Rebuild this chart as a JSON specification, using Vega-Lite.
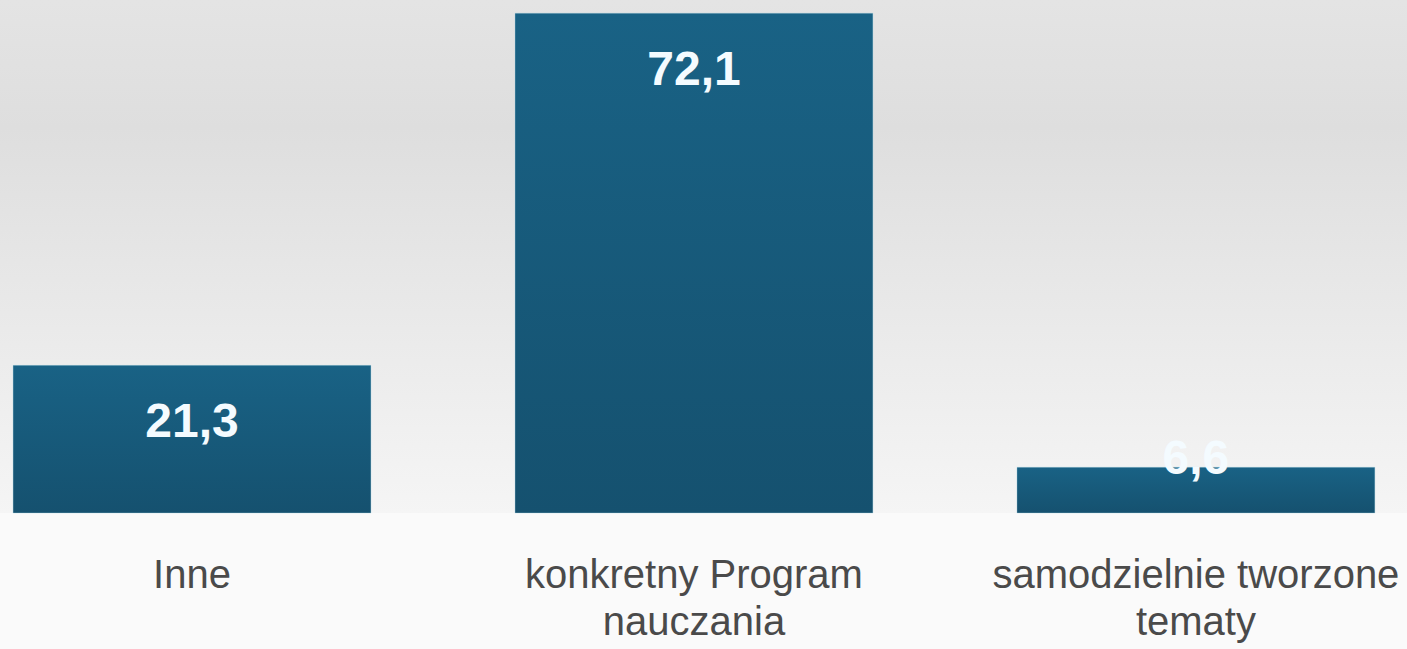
{
  "$schema": "https://vega.github.io/schema/vega-lite/v6.json",
  "width": 1407,
  "height": 513,
  "autosize": {"type": "none"},
  "padding": {"left": 0, "top": 0, "right": 0, "bottom": 136},
  "background": "#fafafa",
  "config": {
    "view": {"stroke": null, "fill": {"gradient": "linear", "x1": 0, "y1": 0, "x2": 0, "y2": 1, "stops": [{"offset": 0, "color": "#e4e4e4"}, {"offset": 0.25, "color": "#dedede"}, {"offset": 1, "color": "#f5f5f5"}]}},
    "locale": {"number": {"decimal": ",", "thousands": " ", "grouping": [3], "currency": ["", " zł"]}}
  },
  "data": {"values": [
    {"kategoria": "Inne", "wartosc": 21.3},
    {"kategoria": "konkretny Program nauczania", "wartosc": 72.1},
    {"kategoria": "samodzielnie tworzone tematy", "wartosc": 6.6}
  ]},
  "encoding": {
    "x": {"field": "kategoria", "type": "nominal", "sort": null,
      "scale": {"paddingInner": 0.287, "paddingOuter": 0.045, "align": 0.289},
      "axis": {"title": null, "domain": false, "ticks": false, "labelAngle": 0, "labelFont": "Liberation Sans", "labelFontSize": 40, "labelColor": "#4a4a4a", "labelPadding": 42, "labelLineHeight": 47, "labelLimit": 1000, "labelOverlap": false,
        "labelExpr": "datum.value == 'konkretny Program nauczania' ? ['konkretny Program', 'nauczania'] : datum.value == 'samodzielnie tworzone tematy' ? ['samodzielnie tworzone', 'tematy'] : datum.value"}},
    "y": {"field": "wartosc", "type": "quantitative", "scale": {"domain": [0, 74], "nice": false}, "axis": null}
  },
  "layer": [
    {"mark": {"type": "bar", "fill": {"gradient": "linear", "x1": 0, "y1": 0, "x2": 0, "y2": 1, "stops": [{"offset": 0, "color": "#196285"}, {"offset": 1, "color": "#15516f"}]}, "stroke": "#a8d4e4", "strokeWidth": 0.6, "strokeOpacity": 0.6}},
    {"transform": [{"filter": "datum.wartosc >= 10"}],
      "mark": {"type": "text", "font": "Liberation Sans", "fontWeight": "bold", "fontSize": 48, "color": "#f4fbff", "baseline": "middle", "dy": 58},
      "encoding": {"text": {"field": "wartosc", "type": "quantitative", "format": ".1f"}}},
    {"transform": [{"filter": "datum.wartosc < 10"}],
      "mark": {"type": "text", "font": "Liberation Sans", "fontWeight": "bold", "fontSize": 48, "color": "#f4fbff", "baseline": "middle", "dy": -7},
      "encoding": {"text": {"field": "wartosc", "type": "quantitative", "format": ".1f"}}}
  ]
}
